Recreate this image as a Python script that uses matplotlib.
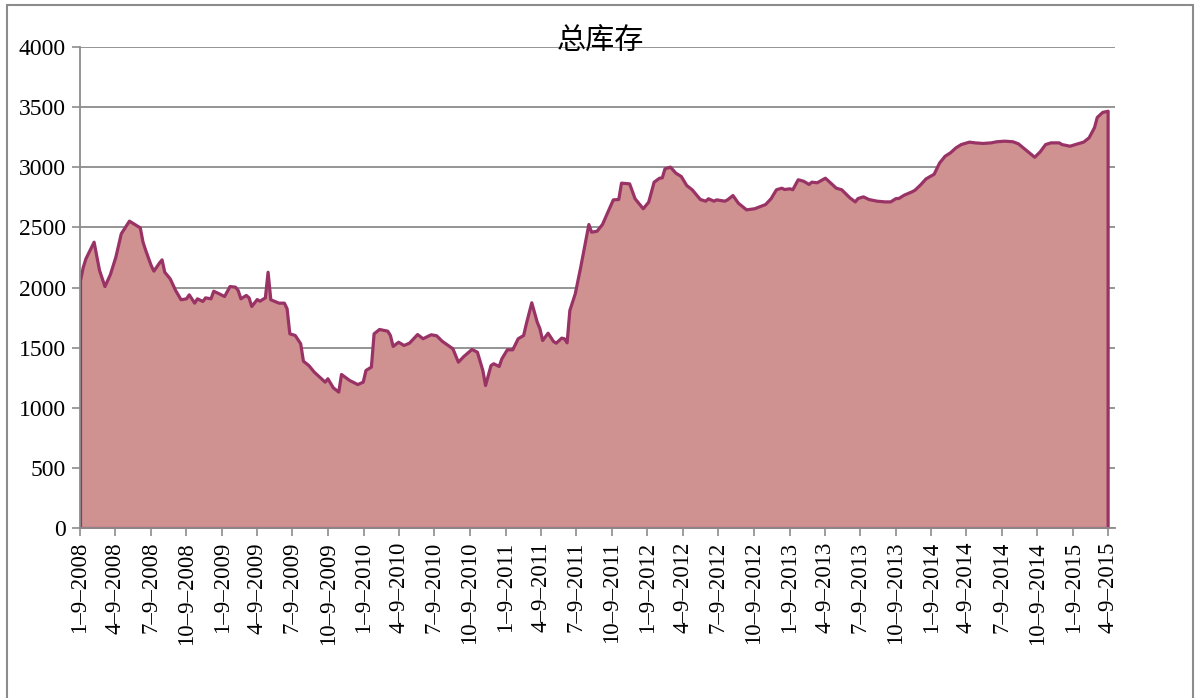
import matplotlib
matplotlib.use("Agg")
import matplotlib.pyplot as plt
import matplotlib.patches as mpatches
import pandas as pd

# weekly data: week number counted from 2008-01-09, total stock
start = "2008-01-09"
weeks = [0, 1, 2, 5, 7, 9, 11, 13, 15, 18, 22, 23, 24, 26, 27, 29, 30, 31, 33, 35,
         37, 39, 40, 42, 43, 45, 46, 48, 49, 51, 53, 55, 57, 58, 59, 61, 62, 63, 65, 66,
         68, 69, 70, 73, 75, 76, 77, 79, 81, 82, 84, 86, 90, 91, 93, 95, 96, 99, 102, 104,
         105, 107, 108, 110, 113, 114, 115, 117, 119, 121, 124, 126, 129, 131, 133, 137, 139, 141, 144, 146,
         148, 149, 151, 152, 154, 155, 157, 159, 161, 163, 164, 166, 168, 169, 170, 172, 174, 175, 177, 178,
         179, 180, 182, 184, 187, 188, 190, 192, 194, 196, 198, 199, 202, 204, 207, 209, 211, 213, 214, 215,
         217, 219, 221, 223, 225, 228, 230, 231, 233, 234, 237, 238, 240, 242, 245, 248, 252, 254, 256, 258,
         259, 261, 262, 264, 266, 268, 269, 271, 274, 276, 278, 280, 283, 285, 286, 288, 290, 293, 296, 298,
         300, 301, 303, 306, 307, 309, 311, 314, 316, 318, 320, 322, 324, 327, 329, 332, 335, 337, 340, 343,
         345, 348, 351, 353, 355, 357, 360, 361, 364, 366, 369, 371, 373, 374, 376, 378]
stock = [2060, 2170, 2243, 2381, 2146, 2012, 2112, 2256, 2451, 2556, 2500, 2381, 2312, 2187, 2140, 2206, 2234, 2131, 2076, 1979,
         1902, 1910, 1943, 1874, 1910, 1888, 1918, 1910, 1973, 1952, 1929, 2012, 2007, 1979, 1910, 1938, 1918, 1846, 1904, 1890,
         1918, 2131, 1902, 1874, 1874, 1827, 1619, 1605, 1536, 1391, 1355, 1300, 1217, 1245, 1170, 1134, 1281, 1231, 1197, 1217,
         1314, 1342, 1619, 1655, 1641, 1605, 1514, 1549, 1522, 1541, 1613, 1578, 1611, 1603, 1558, 1494, 1383, 1430, 1489, 1466,
         1314, 1189, 1355, 1370, 1347, 1411, 1486, 1486, 1578, 1605, 1702, 1877, 1716, 1661, 1563, 1624, 1555, 1541, 1583, 1578,
         1544, 1813, 1952, 2173, 2528, 2464, 2472, 2528, 2631, 2733, 2736, 2872, 2866, 2742, 2659, 2714, 2880, 2913, 2916, 2991,
         3005, 2955, 2927, 2852, 2817, 2736, 2722, 2742, 2722, 2733, 2722, 2733, 2769, 2705, 2650, 2659, 2694, 2742, 2817, 2830,
         2819, 2825, 2817, 2900, 2888, 2861, 2880, 2875, 2913, 2872, 2830, 2817, 2750, 2716, 2744, 2758, 2736, 2722, 2716, 2716,
         2744, 2744, 2772, 2801, 2814, 2857, 2907, 2946, 3039, 3095, 3124, 3165, 3193, 3213, 3207, 3202, 3207, 3216, 3221, 3216,
         3199, 3143, 3087, 3132, 3193, 3207, 3207, 3193, 3179, 3193, 3213, 3249, 3334, 3418, 3460, 3470]
yticks = [0, 500, 1000, 1500, 2000, 2500, 3000, 3500, 4000]
title = "总库存"

dates = pd.Timestamp(start) + pd.to_timedelta([w * 7 for w in weeks], unit="D")
tick_dates = pd.date_range(start, "2015-04-09", freq=pd.DateOffset(months=3))
# long dashes as in the original axis labels
tick_labels = [f"{d.month}\u2013{d.day}\u2013{d.year}" for d in tick_dates]

fill_color = "#D09191"
line_color = "#993366"
grid_color = "#8c8c8c"

fig = plt.figure(figsize=(11.95, 6.98), dpi=100)
ax = fig.add_axes([80 / 1195, 1 - 528 / 698, 1035 / 1195, 481 / 698])

ax.fill_between(dates, stock, 0, facecolor=fill_color, edgecolor=line_color,
                linewidth=2.3, zorder=1)

ax.set_ylim(0, 4000)
ax.set_xlim(pd.Timestamp(start), pd.Timestamp("2015-04-27"))
ax.set_yticks(yticks)
ax.set_xticks(tick_dates)
ax.set_xticklabels(tick_labels, rotation=90, fontsize=16.5, family="Liberation Serif")
for lab in ax.get_yticklabels():
    lab.set_family("Liberation Serif")
    lab.set_fontsize(17)

ax.set_axisbelow(True)
ax.grid(axis="y", color=grid_color, linewidth=1.3)
for s in ["top", "right"]:
    ax.spines[s].set_visible(False)
for s in ["left", "bottom"]:
    ax.spines[s].set_color(grid_color)
    ax.spines[s].set_linewidth(1.3)
    ax.spines[s].set_zorder(3)
ax.tick_params(axis="both", color=grid_color, width=1.2, length=6, direction="out")
ax.tick_params(axis="x", pad=4)
ax.tick_params(axis="y", pad=4)

fig.text(600 / 1195, 1 - 42 / 698, title, ha="center", va="center", fontsize=21,
         fontweight="light", family=["Noto Sans CJK SC", "DejaVu Sans"])

# outer frame of the chart
fig.patches.append(mpatches.Rectangle((7 / 1195, -0.01), 1186 / 1195, 1 - 5 / 698 + 0.01,
                                      transform=fig.transFigure, fill=False,
                                      edgecolor="#8c8c8c", linewidth=1.5))

fig.savefig("out.png", dpi=100)
